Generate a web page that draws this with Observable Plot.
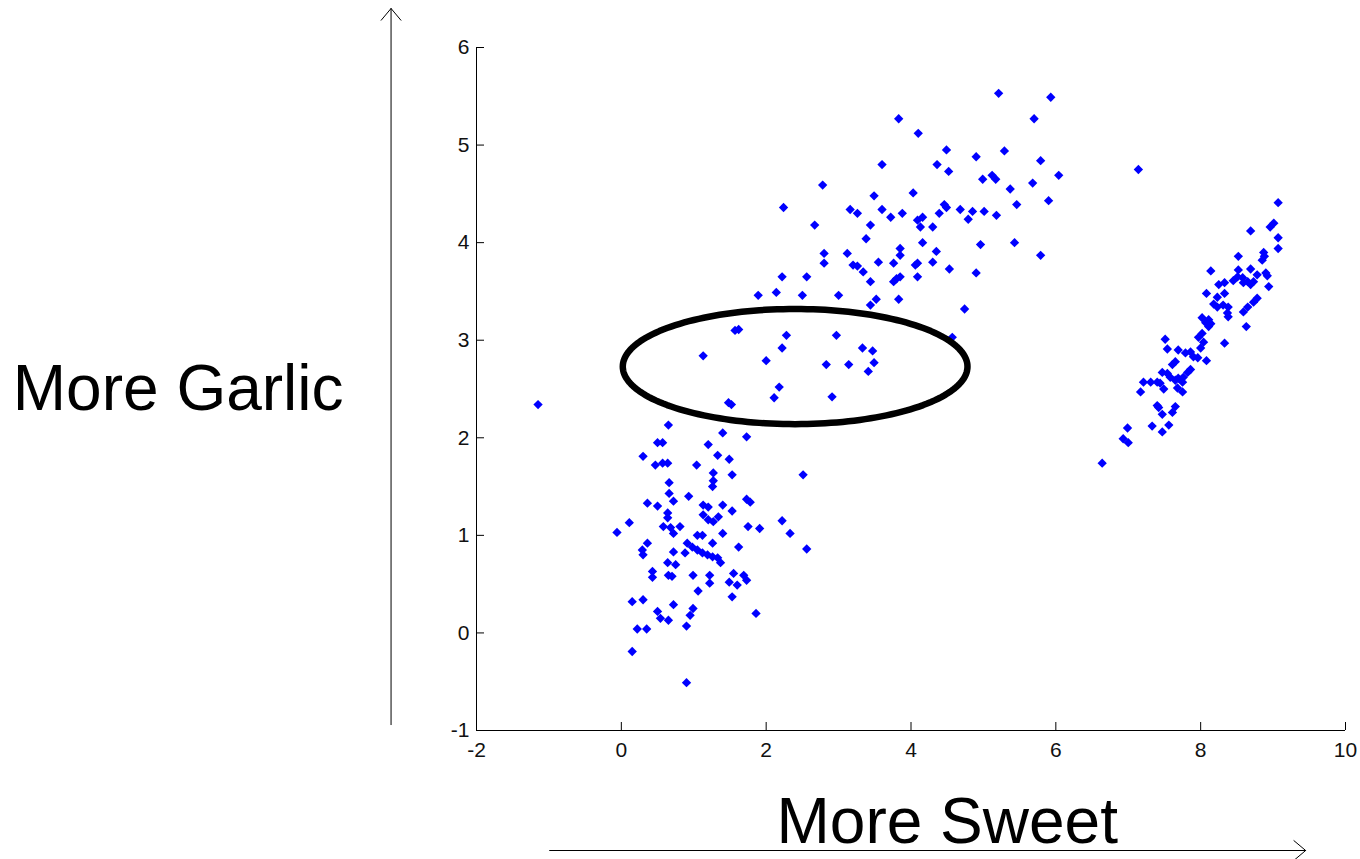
<!DOCTYPE html>
<html><head><meta charset="utf-8">
<script src="https://cdn.jsdelivr.net/npm/d3@7"></script>
<script src="https://cdn.jsdelivr.net/npm/@observablehq/plot@0.6"></script>
<style>html,body{margin:0;padding:0;background:#fff;overflow:hidden}#chart{width:1360px;height:859px}</style>
</head><body><div id="chart"></div>
<script>
// ---- data ----
const sweet = [
-1.15,0.65,0.50,0.57,0.30,0.47,0.57,0.64,0.66,0.66,0.36,0.50,0.58,0.11,-0.06,0.36,0.29,0.30,0.64,0.43,0.43,0.65,0.15,0.30,0.50,0.54,0.65,0.22,0.35,0.15,
1.48,1.52,1.40,1.73,1.20,1.33,1.49,1.04,2.51,1.27,1.53,1.27,1.26,0.93,0.72,1.73,1.78,1.13,1.20,1.40,1.53,0.64,0.64,1.13,1.20,1.27,1.34,0.68,0.72,0.81,
2.22,1.75,1.91,2.33,1.05,1.12,1.40,1.26,0.91,0.98,1.05,1.12,1.19,1.26,1.33,1.37,1.62,2.56,0.72,0.88,0.75,0.70,0.99,1.22,1.22,1.55,1.49,1.69,1.73,1.60,
1.06,1.53,0.72,0.99,0.95,0.90,1.86,0.90,
2.80,3.20,3.55,3.76,3.34,3.44,3.76,3.80,2.22,2.56,1.89,2.14,2.50,3.00,3.52,3.44,3.83,1.57,1.62,2.28,2.97,1.13,2.22,3.33,3.47,2.00,2.83,3.14,3.49,3.41,
2.18,2.11,2.91,3.83,4.10,3.60,4.36,2.78,2.24,3.49,4.03,3.16,3.26,3.60,3.72,3.88,4.09,4.16,4.13,4.30,4.39,2.67,3.44,3.38,4.16,3.85,3.85,4.35,2.80,3.12,
3.26,4.09,4.06,4.30,3.85,4.09,4.53,4.57,5.21,5.93,5.70,4.49,4.90,5.29,4.52,5.79,6.04,4.99,5.12,5.17,5.68,5.37,5.46,5.90,4.46,4.49,4.68,4.85,4.79,5.01,
5.18,4.96,5.43,5.79,4.90,4.74,
7.14,9.07,9.01,8.96,8.69,9.07,9.07,8.52,8.87,8.88,8.85,8.14,8.69,8.52,8.51,8.58,8.45,8.59,8.65,8.73,8.69,8.78,8.90,8.92,8.94,8.25,8.33,8.33,8.08,8.23,
8.18,8.23,8.31,8.38,8.37,8.38,8.78,8.73,8.65,8.59,8.02,8.11,8.14,8.63,8.07,8.11,8.02,7.97,8.04,8.00,8.33,7.51,7.54,7.69,7.79,7.86,7.90,7.96,8.08,7.65,
7.61,7.86,7.82,7.47,7.54,7.58,7.65,7.69,7.75,7.76,7.21,7.31,7.40,7.44,7.17,7.49,7.68,7.75,7.40,7.42,7.65,7.61,7.47,7.33,7.56,7.47,6.99,6.93,7.00,6.64
];
const garlic = [
2.34,2.13,1.95,1.95,1.81,1.72,1.74,1.74,1.54,1.43,1.33,1.30,1.09,1.13,1.03,0.92,0.85,0.80,0.72,0.63,0.57,0.59,0.32,0.34,0.22,0.15,0.13,0.04,0.04,-0.19,
2.36,2.34,2.05,2.01,1.93,1.82,1.78,1.72,1.62,1.64,1.62,1.56,1.50,1.40,1.35,1.37,1.34,1.31,1.29,1.31,1.25,1.23,1.18,1.21,1.16,1.14,1.19,1.08,1.02,1.09,
1.15,1.09,1.07,1.02,1.00,1.00,1.02,0.92,0.92,0.88,0.85,0.82,0.80,0.78,0.77,0.72,0.88,0.86,0.83,0.82,0.70,0.58,0.59,0.59,0.51,0.61,0.52,0.59,0.54,0.49,
0.43,0.37,0.29,0.25,0.18,0.07,0.20,-0.51,
3.79,3.77,3.80,3.79,3.70,3.60,3.60,3.63,3.65,3.65,3.46,3.49,3.46,3.46,3.42,3.36,3.42,3.10,3.11,3.05,3.05,2.84,2.92,2.92,2.89,2.79,2.75,2.75,2.77,2.68,
2.52,2.41,2.42,5.27,5.12,4.80,4.80,4.59,4.36,4.48,4.51,4.34,4.30,4.34,4.26,4.30,4.23,4.26,4.16,4.16,4.30,4.18,4.18,4.04,4.00,3.94,3.87,3.91,3.89,3.89,
3.76,3.79,3.77,3.80,3.65,3.65,3.73,3.03,5.53,5.49,5.27,4.95,4.88,4.94,4.73,4.84,4.69,4.65,4.69,4.65,4.61,4.55,4.39,4.43,4.39,4.36,4.34,4.32,4.24,4.32,
4.28,3.98,4.00,3.87,3.69,3.32,
4.75,4.41,4.20,4.16,4.12,4.05,3.94,3.86,3.90,3.86,3.82,3.71,3.73,3.72,3.65,3.64,3.61,3.59,3.60,3.60,3.57,3.67,3.69,3.66,3.55,3.57,3.59,3.48,3.48,3.44,
3.37,3.34,3.36,3.34,3.28,3.24,3.43,3.39,3.34,3.29,3.23,3.21,3.17,3.14,3.18,3.14,3.07,3.03,2.98,2.92,2.97,3.01,2.91,2.90,2.87,2.88,2.83,2.82,2.79,2.78,
2.75,2.70,2.67,2.67,2.66,2.62,2.59,2.61,2.57,2.62,2.57,2.57,2.57,2.56,2.47,2.50,2.51,2.47,2.33,2.31,2.32,2.26,2.24,2.12,2.13,2.06,2.10,1.99,1.95,1.74
];
const xTicks = [-2, 0, 2, 4, 6, 8, 10];
const yTicks = [-1, 0, 1, 2, 3, 4, 5, 6];
const xLabel = "More Sweet";
const yLabel = "More Garlic";
// highlighted region (centre and radii, data units)
const ellipseSpec = {cx: 2.40, cy: 2.73, rx: 2.38, ry: 0.59};
// annotation arrows and labels (data units, outside the frame)
const arrows = [
  {x1: -3.18, y1: -0.94, x2: -3.18, y2: 6.40},
  {x1: -0.99, y1: -2.23, x2: 9.45, y2: -2.23}
];
const labels = [
  {x: -6.12, y: 2.49, text: yLabel},
  {x: 4.50, y: -1.94, text: xLabel}
];

// ---- build ----
const points = sweet.map((x, i) => ({sweet: x, garlic: garlic[i]}));
const W = 1360, H = 859, mL = 476, mR = 15, mT = 47, mB = 129;
const xDom = [-2, 10], yDom = [-1, 6];
const tickPx = 8;
const tickDY = tickPx * (yDom[1] - yDom[0]) / (H - mT - mB);
const tickDX = tickPx * (xDom[1] - xDom[0]) / (W - mL - mR);
const ellipsePts = d3.range(0, 361, 2).map(a => {
  const t = a * Math.PI / 180;
  return {x: ellipseSpec.cx + ellipseSpec.rx * Math.cos(t), y: ellipseSpec.cy + ellipseSpec.ry * Math.sin(t)};
});
const tickFont = "'Liberation Sans Narrow', 'Liberation Sans', Arial, sans-serif";

const chart = Plot.plot({
  width: W, height: H,
  marginLeft: mL, marginRight: mR, marginTop: mT, marginBottom: mB,
  style: {fontFamily: "'Liberation Sans', Arial, sans-serif", background: "#fff", overflow: "visible"},
  x: {domain: xDom},
  y: {domain: yDom},
  marks: [
    Plot.axisX({ticks: xTicks, tickSize: 0, tickPadding: 12, tickFormat: d => String(d), fontSize: 21, label: null, fontFamily: tickFont, fill: "#111"}),
    Plot.axisY({ticks: yTicks, tickSize: 0, tickPadding: 7, tickFormat: d => String(d), fontSize: 21, label: null, fontFamily: tickFont, fill: "#111"}),
    Plot.ruleX([xDom[0]], {y1: yDom[0], y2: yDom[1], stroke: "#000", strokeWidth: 1}),
    Plot.ruleY([yDom[0]], {x1: xDom[0], x2: xDom[1], stroke: "#000", strokeWidth: 1}),
    Plot.ruleX(xTicks, {x: d => d, y1: yDom[0], y2: yDom[0] + tickDY, stroke: "#000", strokeWidth: 1}),
    Plot.ruleY(yTicks, {y: d => d, x1: xDom[0], x2: xDom[0] + tickDX, stroke: "#000", strokeWidth: 1}),
    Plot.dot(points, {x: "sweet", y: "garlic", symbol: "diamond2", r: 4.2, fill: "#0000ff", stroke: "none"}),
    Plot.line(ellipsePts, {x: "x", y: "y", stroke: "#000", strokeWidth: 6.5, curve: "linear"}),
    Plot.arrow(arrows, {x1: "x1", y1: "y1", x2: "x2", y2: "y2", stroke: "#000", strokeWidth: 1, headLength: 23, headAngle: 80, bend: 0}),
    Plot.text(labels, {x: "x", y: "y", text: "text", fontSize: 64, fill: "#000", textAnchor: "middle"})
  ]
});
document.getElementById("chart").appendChild(chart);
</script>
</body></html>
